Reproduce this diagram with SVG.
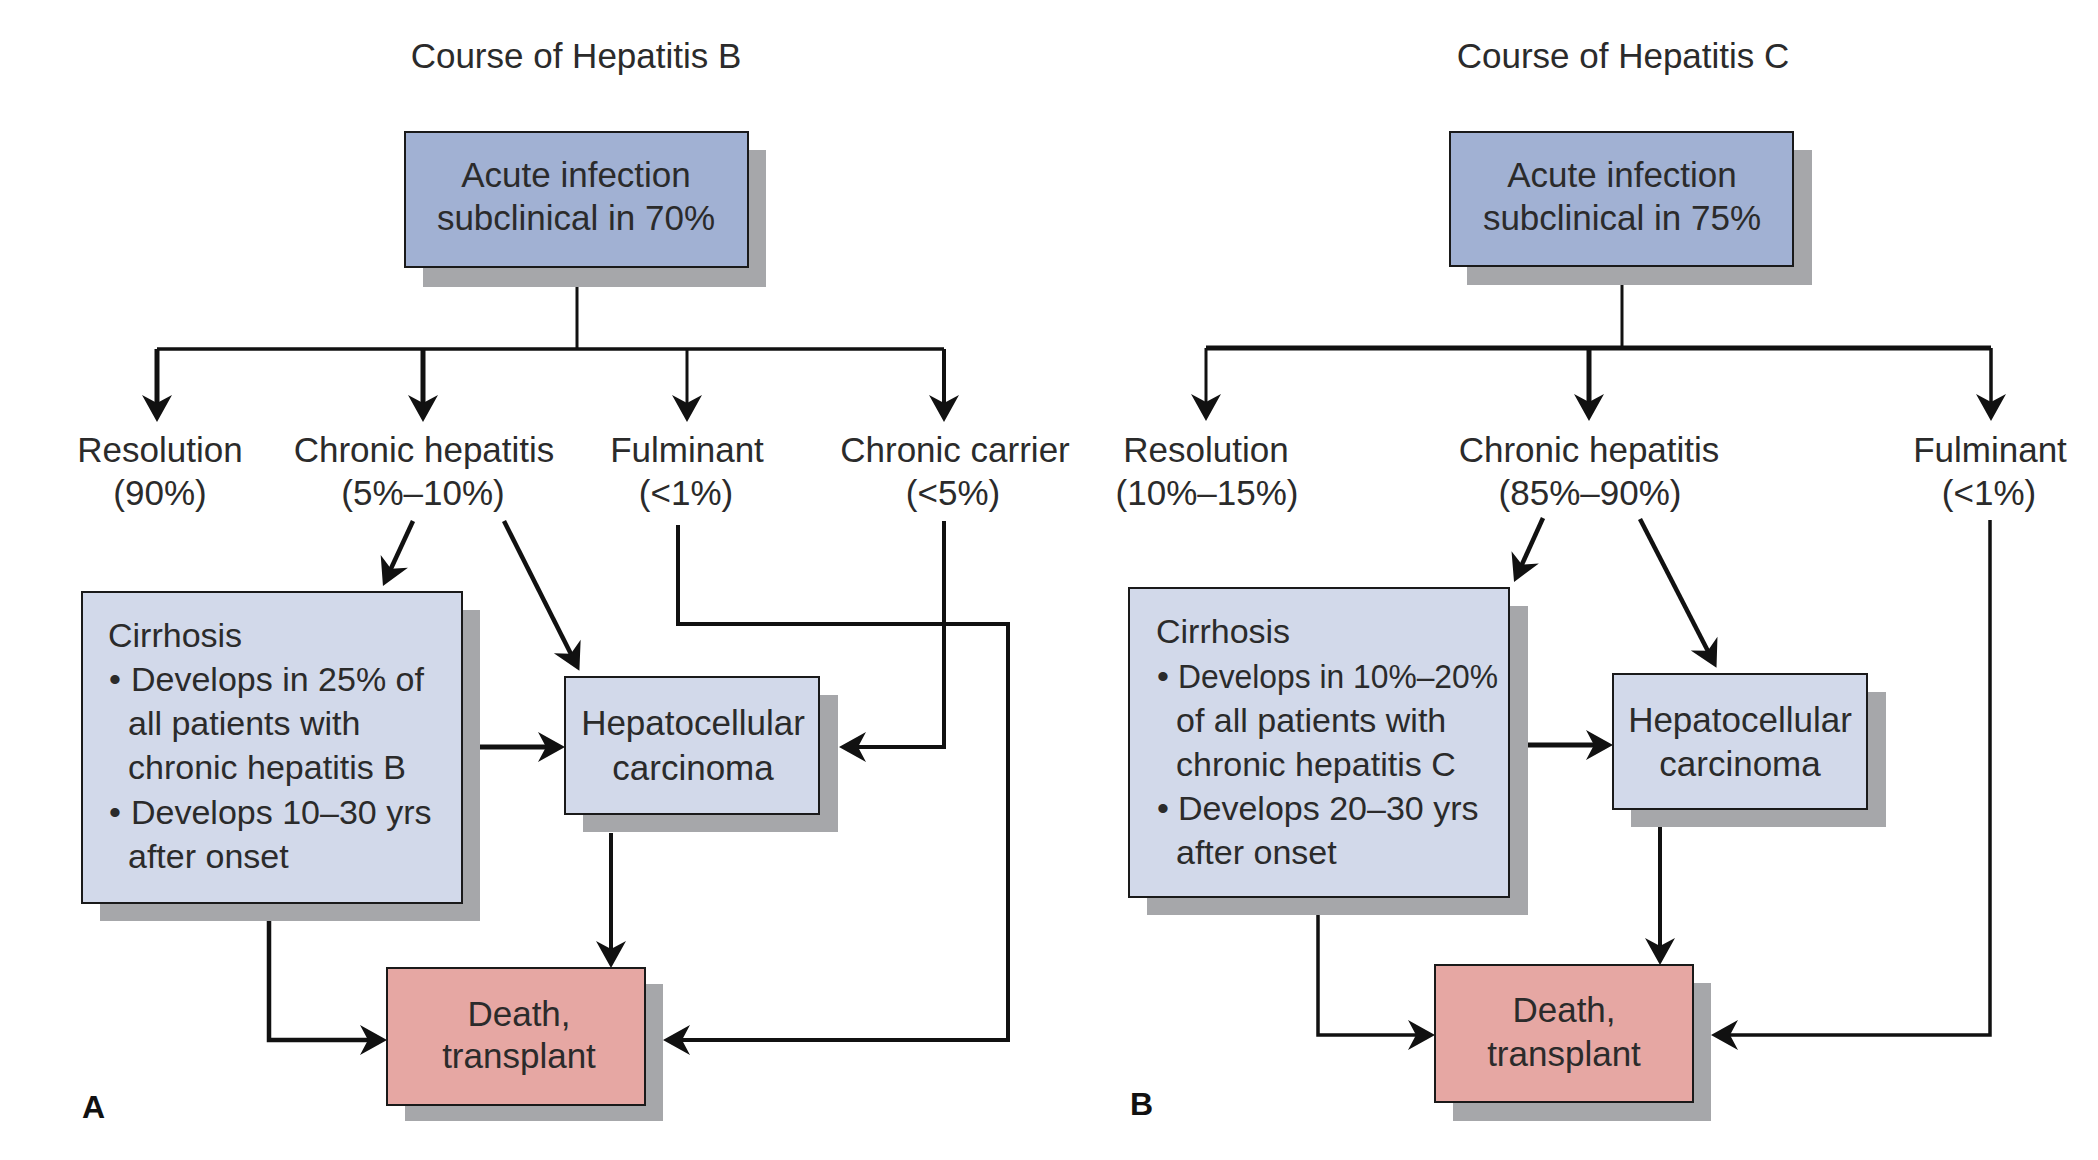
<svg xmlns="http://www.w3.org/2000/svg" width="2098" height="1160" viewBox="0 0 2098 1160">
<defs>
<marker id="ah" viewBox="-30 -16 32 32" markerWidth="32" markerHeight="32" refX="-12" refY="0" markerUnits="userSpaceOnUse" orient="auto">
<path d="M0,0 L-27,-15 L-19,0 L-27,15 Z" fill="#111"/>
</marker>
</defs>
<style>
text{font-family:"Liberation Sans",Arial,Helvetica,sans-serif;font-size:35px;fill:#2b2b2b}
.c{text-anchor:middle}
.sm{font-size:34px}
.lab{font-weight:bold;font-size:32px;fill:#111}
.box{stroke:#1a1a1a;stroke-width:2}
.shadow{fill:#a6a7aa}
.acute{fill:#a1b1d3}
.pale{fill:#d2d9ea}
.death{fill:#e6a7a3}
.ln{fill:none;stroke:#111;stroke-linejoin:miter}
.arr{marker-end:url(#ah)}
</style>
<rect width="2098" height="1160" fill="#fff"/>

<g id="titleA"><text class="c" x="576" y="68">Course of Hepatitis B</text></g>
<g id="titleB"><text class="c" x="1623" y="68">Course of Hepatitis C</text></g>

<g id="connectors">
<!-- Panel A -->
<path class="ln" stroke-width="3" d="M577,287 V349"/>
<path class="ln" stroke-width="3.5" d="M157,349 H944"/>
<path class="ln arr" stroke-width="5" d="M157,349 V410"/>
<path class="ln arr" stroke-width="5" d="M423,349 V410"/>
<path class="ln arr" stroke-width="3" d="M687,349 V410"/>
<path class="ln arr" stroke-width="4" d="M944,349 V410"/>
<path class="ln arr" stroke-width="4.5" d="M413,521 L388,575"/>
<path class="ln arr" stroke-width="4.5" d="M504,521 L574,660"/>
<path class="ln arr" stroke-width="5" d="M480,747 H553"/>
<path class="ln arr" stroke-width="4" d="M944,521 V747 H851"/>
<path class="ln arr" stroke-width="4" d="M678,525 V624 H1008 V1040 H675"/>
<path class="ln arr" stroke-width="4" d="M611,833 V956"/>
<path class="ln arr" stroke-width="4.5" d="M269,921 V1040 H375"/>
<!-- Panel B -->
<path class="ln" stroke-width="3" d="M1622,284 V348"/>
<path class="ln" stroke-width="5" d="M1206,348 H1991"/>
<path class="ln arr" stroke-width="3" d="M1206,348 V409"/>
<path class="ln arr" stroke-width="5" d="M1589,348 V409"/>
<path class="ln arr" stroke-width="3.5" d="M1991,348 V409"/>
<path class="ln arr" stroke-width="4.5" d="M1543,518 L1519,571"/>
<path class="ln arr" stroke-width="4.5" d="M1640,519 L1711,657"/>
<path class="ln arr" stroke-width="5" d="M1528,745 H1601"/>
<path class="ln arr" stroke-width="4" d="M1660,827 V953"/>
<path class="ln arr" stroke-width="3.5" d="M1318,915 V1035 H1423"/>
<path class="ln arr" stroke-width="3.5" d="M1990,520 V1035 H1723"/>
</g>

<!-- Panel A nodes -->
<g id="acuteA">
<rect class="shadow" x="423" y="150" width="343" height="137"/>
<rect class="box acute" x="405" y="132" width="343" height="135"/>
<text class="c" x="576" y="187">Acute infection</text>
<text class="c" x="576" y="230">subclinical in 70%</text>
</g>
<g id="resolutionA">
<text class="c" x="160" y="462">Resolution</text>
<text class="c" x="160" y="505">(90%)</text>
</g>
<g id="chronicA">
<text class="c" x="424" y="462">Chronic hepatitis</text>
<text class="c" x="423" y="505">(5%–10%)</text>
</g>
<g id="fulminantA">
<text class="c" x="687" y="462">Fulminant</text>
<text class="c" x="686" y="505">(&lt;1%)</text>
</g>
<g id="carrierA">
<text class="c" x="955" y="462">Chronic carrier</text>
<text class="c" x="953" y="505">(&lt;5%)</text>
</g>
<g id="cirrhosisA">
<rect class="shadow" x="100" y="610" width="380" height="311"/>
<rect class="box pale" x="82" y="592" width="380" height="311"/>
<text class="sm" x="108" y="647">Cirrhosis</text>
<text class="sm" x="109" y="691">•</text>
<text class="sm" x="131" y="691">Develops in 25% of</text>
<text class="sm" x="128" y="735">all patients with</text>
<text class="sm" x="128" y="779">chronic hepatitis B</text>
<text class="sm" x="109" y="824">•</text>
<text class="sm" x="131" y="824">Develops 10–30 yrs</text>
<text class="sm" x="128" y="868">after onset</text>
</g>
<g id="hccA">
<rect class="shadow" x="583" y="695" width="255" height="137"/>
<rect class="box pale" x="565" y="677" width="254" height="137"/>
<text class="c" x="693" y="735">Hepatocellular</text>
<text class="c" x="693" y="780">carcinoma</text>
</g>
<g id="deathA">
<rect class="shadow" x="405" y="984" width="258" height="137"/>
<rect class="box death" x="387" y="968" width="258" height="137"/>
<text class="c" x="519" y="1026">Death,</text>
<text class="c" x="519" y="1068">transplant</text>
</g>
<g id="labelA"><text class="lab" x="82" y="1118">A</text></g>

<!-- Panel B nodes -->
<g id="acuteB">
<rect class="shadow" x="1467" y="150" width="345" height="135"/>
<rect class="box acute" x="1450" y="132" width="343" height="134"/>
<text class="c" x="1622" y="187">Acute infection</text>
<text class="c" x="1622" y="230">subclinical in 75%</text>
</g>
<g id="resolutionB">
<text class="c" x="1206" y="462">Resolution</text>
<text class="c" x="1207" y="505">(10%–15%)</text>
</g>
<g id="chronicB">
<text class="c" x="1589" y="462">Chronic hepatitis</text>
<text class="c" x="1590" y="505">(85%–90%)</text>
</g>
<g id="fulminantB">
<text class="c" x="1990" y="462">Fulminant</text>
<text class="c" x="1989" y="505">(&lt;1%)</text>
</g>
<g id="cirrhosisB">
<rect class="shadow" x="1147" y="606" width="381" height="309"/>
<rect class="box pale" x="1129" y="588" width="380" height="309"/>
<text class="sm" x="1156" y="643">Cirrhosis</text>
<text class="sm" x="1157" y="688">•</text>
<text class="sm" x="1178" y="688" textLength="320" lengthAdjust="spacingAndGlyphs">Develops in 10%–20%</text>
<text class="sm" x="1176" y="732">of all patients with</text>
<text class="sm" x="1176" y="776">chronic hepatitis C</text>
<text class="sm" x="1157" y="820">•</text>
<text class="sm" x="1178" y="820">Develops 20–30 yrs</text>
<text class="sm" x="1176" y="864">after onset</text>
</g>
<g id="hccB">
<rect class="shadow" x="1631" y="692" width="255" height="135"/>
<rect class="box pale" x="1613" y="674" width="254" height="135"/>
<text class="c" x="1740" y="732">Hepatocellular</text>
<text class="c" x="1740" y="776">carcinoma</text>
</g>
<g id="deathB">
<rect class="shadow" x="1453" y="983" width="258" height="138"/>
<rect class="box death" x="1435" y="965" width="258" height="137"/>
<text class="c" x="1564" y="1022">Death,</text>
<text class="c" x="1564" y="1066">transplant</text>
</g>
<g id="labelB"><text class="lab" x="1130" y="1115">B</text></g>
</svg>
